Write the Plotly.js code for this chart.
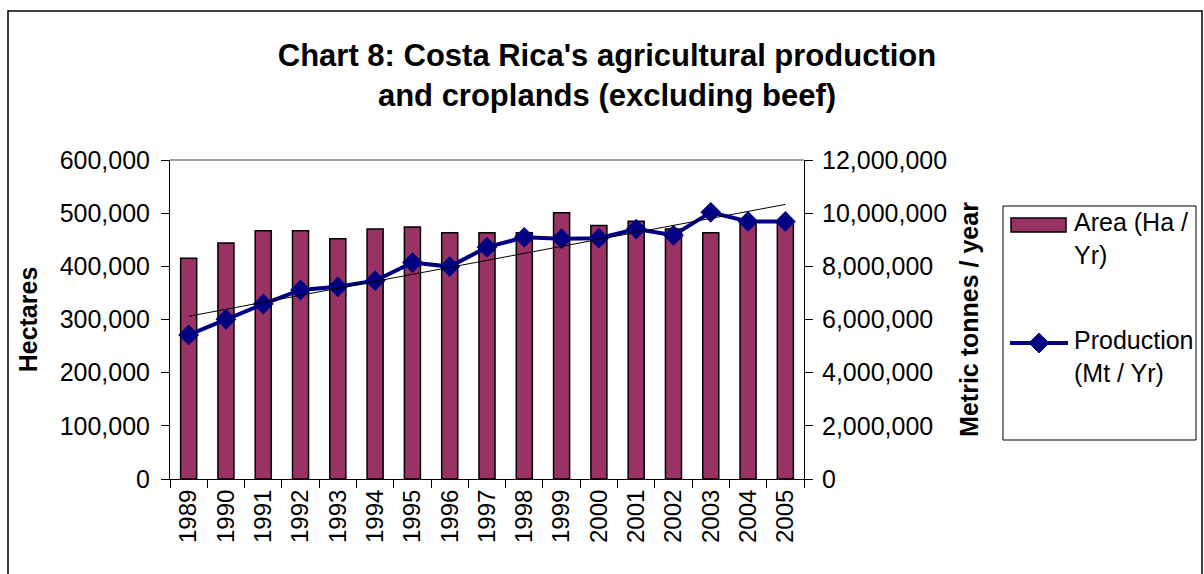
<!DOCTYPE html>
<html>
<head>
<meta charset="utf-8">
<script src="https://cdn.plot.ly/plotly-3.0.1.min.js"></script>
<style>html,body{margin:0;padding:0;background:#fff;}#chart{width:1204px;height:574px;}</style>
</head>
<body>
<div id="chart"></div>
<script>
const years = ['1989','1990','1991','1992','1993','1994','1995','1996','1997','1998','1999','2000','2001','2002','2003','2004','2005'];
const areaHa = [415000,444000,467000,467000,452000,470000,474000,463000,463000,463000,501000,477000,485000,470000,463000,485000,485000];
const productionMt = [5420000,6010000,6580000,7110000,7230000,7460000,8140000,7990000,8720000,9090000,9040000,9060000,9400000,9170000,10030000,9690000,9690000];
const seriesNames = ['Area (Ha /<br>Yr)', 'Production<br>(Mt / Yr)'];
const seriesColors = ['#993366', '#000080'];

// Linear trendline (least squares) of production over the category index
function linearTrend(vals){
  const n = vals.length;
  let sx=0, sy=0, sxx=0, sxy=0;
  for (let i=0;i<n;i++){ sx+=i; sy+=vals[i]; sxx+=i*i; sxy+=i*vals[i]; }
  const b = (n*sxy - sx*sy)/(n*sxx - sx*sx);
  const a = (sy - b*sx)/n;
  return vals.map((v,i)=>a+b*i);
}
const trend = linearTrend(productionMt);

const FONT = 'Arial, "Liberation Sans", sans-serif';

const traces = [
  {
    type:'bar', x:years, y:areaHa, name:seriesNames[0], yaxis:'y', showlegend:false,
    marker:{color:seriesColors[0], line:{color:'#000000', width:1.5}}
  },
  {
    type:'scatter', mode:'lines+markers', x:years, y:productionMt, name:seriesNames[1], yaxis:'y2', showlegend:false,
    line:{color:seriesColors[1], width:4},
    marker:{symbol:'diamond', size:16, color:seriesColors[1]}
  },
  {
    type:'scatter', mode:'lines', x:years, y:trend, name:'Linear trend', yaxis:'y2', showlegend:false,
    line:{color:'#000000', width:1}
  }
];

const L=170, R=804, T=160, B=479;
const px2x = p => (p-L)/(R-L);
const px2y = p => (B-p)/(B-T);

// legend diamond path (paper coords)
const dcx=1039, dcy=343, dr=10;
const diamondPath = 'M'+px2x(dcx)+','+px2y(dcy-dr)+' L'+px2x(dcx+dr)+','+px2y(dcy)+' L'+px2x(dcx)+','+px2y(dcy+dr)+' L'+px2x(dcx-dr)+','+px2y(dcy)+' Z';

const layout = {
  width:1204, height:574,
  margin:{l:L, r:1204-R, t:T, b:574-B, pad:0},
  paper_bgcolor:'#ffffff', plot_bgcolor:'#ffffff',
  font:{family:FONT, color:'#000000', size:25},
  title:{
    text:"<b>Chart 8: Costa Rica's agricultural production<br>and croplands (excluding beef)</b>",
    font:{family:FONT, size:31, color:'#000000'},
    x:607/1204, xref:'container', xanchor:'center',
    y:1-66/574, yref:'container', yanchor:'middle'
  },
  barmode:'group', bargap:0.57,
  showlegend:false,
  xaxis:{
    type:'category', showline:true, linecolor:'#000000', linewidth:1,
    ticks:'outside', tickson:'boundaries', ticklen:8, tickcolor:'#000000', tickwidth:1,
    tickangle:-90, tickfont:{family:FONT, size:24}, showgrid:false, zeroline:false,
    range:[-0.5,16.5]
  },
  yaxis:{
    range:[0,600000], dtick:100000, tick0:0, tickformat:',d',
    showline:true, linecolor:'#000000', linewidth:1,
    ticks:'outside', ticklen:8, tickcolor:'#000000', tickwidth:1, ticklabelstandoff:6,
    tickfont:{family:FONT, size:25}, showgrid:false, zeroline:false,
    title:{text:'<b>Hectares</b>', font:{family:FONT, size:25}, standoff:14}
  },
  yaxis2:{
    overlaying:'y', side:'right', anchor:'x',
    range:[0,12000000], dtick:2000000, tick0:0, tickformat:',d',
    showline:true, linecolor:'#000000', linewidth:1,
    ticks:'outside', ticklen:8, tickcolor:'#000000', tickwidth:1, ticklabelstandoff:4,
    tickfont:{family:FONT, size:25}, showgrid:false, zeroline:false,
    title:{text:'<b>Metric tonnes / year</b>', font:{family:FONT, size:25}, standoff:14}
  },
  annotations:[
    {xref:'paper', yref:'paper', x:px2x(1072), y:px2y(206), xanchor:'left', yanchor:'top', align:'left',
     text:seriesNames[0], showarrow:false, font:{family:FONT, size:25, color:'#000000'}},
    {xref:'paper', yref:'paper', x:px2x(1072), y:px2y(324), xanchor:'left', yanchor:'top', align:'left',
     text:seriesNames[1], showarrow:false, font:{family:FONT, size:25, color:'#000000'}}
  ],
  shapes:[
    // outer chart border
    {type:'rect', xref:'paper', yref:'paper', x0:px2x(8), x1:px2x(1202), y0:px2y(600), y1:px2y(11),
     line:{color:'#000000', width:1.5}, fillcolor:'rgba(0,0,0,0)', layer:'below'},
    // top edge of plot area
    {type:'line', xref:'paper', yref:'paper', x0:0, x1:1, y0:1, y1:1, line:{color:'#808080', width:1.5}},
    // legend box
    {type:'rect', xref:'paper', yref:'paper', x0:px2x(1003), x1:px2x(1196), y0:px2y(440), y1:px2y(206),
     line:{color:'#000000', width:1}, fillcolor:'rgba(0,0,0,0)'},
    // legend key: area
    {type:'rect', xref:'paper', yref:'paper', x0:px2x(1011), x1:px2x(1066), y0:px2y(232), y1:px2y(218),
     line:{color:'#000000', width:1.5}, fillcolor:seriesColors[0]},
    // legend key: production line + diamond
    {type:'line', xref:'paper', yref:'paper', x0:px2x(1010), x1:px2x(1068), y0:px2y(dcy), y1:px2y(dcy),
     line:{color:seriesColors[1], width:4}},
    {type:'path', xref:'paper', yref:'paper', path:diamondPath, fillcolor:seriesColors[1], line:{color:seriesColors[1], width:1}}
  ]
};

Plotly.newPlot('chart', traces, layout, {displayModeBar:false, staticPlot:true});
</script>
</body>
</html>
